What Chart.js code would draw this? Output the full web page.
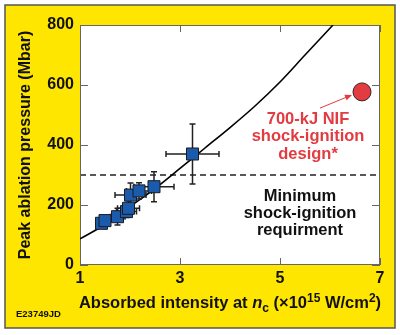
<!DOCTYPE html>
<html><head><meta charset="utf-8">
<script src="https://cdn.jsdelivr.net/npm/chart.js@4"></script>
<style>html,body{margin:0;padding:0;background:#fff;}#wrap{width:400px;height:335px;}</style>
</head><body><div id="wrap"><canvas id="c" width="400" height="335"></canvas></div>
<script>
const xTicks = [1, 3, 5, 7];
const yTicks = [0, 200, 400, 600, 800];
const measIntensity    = [1.43, 1.50, 1.75, 1.93, 1.97, 2.01, 2.18, 2.48, 3.25];
const measPressure     = [139, 148, 161, 178, 189, 233, 247, 261, 370];
const measIntensityErr = [0.10, 0.10, 0.15, 0.20, 0.22, 0.31, 0.25, 0.40, 0.53];
const measPressureErr  = [12, 12, 28, 20, 25, 40, 27, 50, 100];
const fitIntensity = [1, 1.5, 2, 2.5, 3, 3.5, 4, 4.5, 5, 5.5, 6.06];
const fitPressure  = [87, 135, 195, 255, 322, 390, 458, 530, 610, 700, 800];
const designIntensity = [6.64];
const designPressure  = [577];
const thresholdPressure = 300;
const designLabel = ['700-kJ NIF', 'shock-ignition', 'design*'];
const thresholdLabel = ['Minimum', 'shock-ignition', 'requirment'];

const FONT = '"Liberation Sans", Arial, Helvetica, sans-serif';
const RED = '#E23B40';

const deco = {
  id: 'deco',
  beforeDraw(chart) {
    const c = chart.ctx, a = chart.chartArea;
    c.save();
    c.fillStyle = '#fff'; c.fillRect(0, 0, chart.width, chart.height);
    c.fillStyle = '#FFE600'; c.fillRect(5, 5, 390, 323);
    c.strokeStyle = '#555'; c.lineWidth = 1.5; c.strokeRect(5, 5, 390, 323);
    c.fillStyle = '#fff'; c.fillRect(a.left, a.top, a.right - a.left, a.bottom - a.top);
    c.restore();
  },
  beforeDatasetsDraw(chart) {
    const c = chart.ctx, a = chart.chartArea, xs = chart.scales.x, ys = chart.scales.y;
    c.save();
    const yd = ys.getPixelForValue(thresholdPressure);
    c.strokeStyle = '#222'; c.lineWidth = 1.5; c.setLineDash([6, 4]);
    c.beginPath(); c.moveTo(a.left, yd); c.lineTo(a.right, yd); c.stroke();
    c.setLineDash([]);
    c.strokeStyle = '#666'; c.lineWidth = 1;
    c.strokeRect(a.left + 0.5, a.top + 0.5, a.right - a.left - 1, a.bottom - a.top - 1);
    c.beginPath();
    yTicks.forEach(v => {
      const y = Math.round(ys.getPixelForValue(v)) + 0.5;
      c.moveTo(a.left, y); c.lineTo(a.left + 8, y);
      c.moveTo(a.right, y); c.lineTo(a.right - 8, y);
    });
    xTicks.forEach(v => {
      const x = Math.round(xs.getPixelForValue(v)) + 0.5;
      c.moveTo(x, a.top); c.lineTo(x, a.top + 7);
      c.moveTo(x, a.bottom); c.lineTo(x, a.bottom - 7);
    });
    c.stroke();
    c.restore();
  },
  beforeDatasetDraw(chart, args) {
    if (args.index !== 0) return;
    const c = chart.ctx, xs = chart.scales.x, ys = chart.scales.y;
    c.save();
    c.strokeStyle = '#222'; c.lineWidth = 1.5;
    const cap = 3;
    measIntensity.forEach((xv, i) => {
      const x = xs.getPixelForValue(xv), y = ys.getPixelForValue(measPressure[i]);
      const x0 = xs.getPixelForValue(xv - measIntensityErr[i]), x1 = xs.getPixelForValue(xv + measIntensityErr[i]);
      const y0 = ys.getPixelForValue(measPressure[i] - measPressureErr[i]), y1 = ys.getPixelForValue(measPressure[i] + measPressureErr[i]);
      c.beginPath();
      c.moveTo(x0, y); c.lineTo(x1, y);
      c.moveTo(x0, y - cap); c.lineTo(x0, y + cap);
      c.moveTo(x1, y - cap); c.lineTo(x1, y + cap);
      c.moveTo(x, y0); c.lineTo(x, y1);
      c.moveTo(x - cap, y0); c.lineTo(x + cap, y0);
      c.moveTo(x - cap, y1); c.lineTo(x + cap, y1);
      c.stroke();
    });
    c.restore();
  },
  afterDraw(chart) {
    const c = chart.ctx, xs = chart.scales.x, ys = chart.scales.y;
    c.save();
    const ax0 = xs.getPixelForValue(5.8), ay0 = ys.getPixelForValue(523);
    const ax1 = xs.getPixelForValue(6.44), ay1 = ys.getPixelForValue(567);
    c.strokeStyle = RED; c.fillStyle = RED; c.lineWidth = 1;
    const ang = Math.atan2(ay1 - ay0, ax1 - ax0);
    c.beginPath(); c.moveTo(ax0, ay0); c.lineTo(ax1 - 5 * Math.cos(ang), ay1 - 5 * Math.sin(ang)); c.stroke();
    c.beginPath();
    c.moveTo(ax1, ay1);
    c.lineTo(ax1 - 7 * Math.cos(ang) + 3 * Math.sin(ang), ay1 - 7 * Math.sin(ang) - 3 * Math.cos(ang));
    c.lineTo(ax1 - 7 * Math.cos(ang) - 3 * Math.sin(ang), ay1 - 7 * Math.sin(ang) + 3 * Math.cos(ang));
    c.closePath(); c.fill();
    c.textAlign = 'center'; c.textBaseline = 'middle';
    c.font = 'bold 16.5px ' + FONT;
    c.fillStyle = RED;
    designLabel.forEach((t, i) => c.fillText(t, 308, 119 + i * 17.5));
    c.fillStyle = '#111';
    thresholdLabel.forEach((t, i) => c.fillText(t, 300, 196 + i * 17));
    const parts = [
      ['Absorbed intensity at ', 'bold 16.5px', 0],
      ['n', 'italic bold 16.5px', 0],
      ['c', 'bold 12px', 4],
      [' (\u00d710', 'bold 16.5px', 0],
      ['15', 'bold 12px', -6],
      [' W/cm', 'bold 16.5px', 0],
      ['2', 'bold 12px', -6],
      [')', 'bold 16.5px', 0]
    ];
    c.textAlign = 'left'; c.textBaseline = 'alphabetic';
    let w = 0;
    parts.forEach(p => { c.font = p[1] + ' ' + FONT; w += c.measureText(p[0]).width; });
    let x = 230 - w / 2;
    parts.forEach(p => { c.font = p[1] + ' ' + FONT; c.fillText(p[0], x, 308 + p[2]); x += c.measureText(p[0]).width; });
    c.font = 'bold 9.5px ' + FONT;
    c.textBaseline = 'middle';
    c.fillText('E23749JD', 16, 314);
    c.restore();
  }
};

new Chart(document.getElementById('c'), {
  type: 'scatter',
  data: {
    datasets: [
      {
        label: 'Measured',
        data: measIntensity.map((x, i) => ({ x, y: measPressure[i] })),
        pointStyle: 'rect', pointRadius: 8.5,
        backgroundColor: '#1B5BAB', borderColor: '#1a1a22', borderWidth: 1, order: 1
      },
      {
        label: 'Design',
        data: designIntensity.map((x, i) => ({ x, y: designPressure[i] })),
        pointRadius: 9, backgroundColor: RED, borderColor: '#3a2222', borderWidth: 1, order: 2
      },
      {
        label: 'Fit',
        data: fitIntensity.map((x, i) => ({ x, y: fitPressure[i] })),
        showLine: true, pointRadius: 0, borderColor: '#000', borderWidth: 1.6,
        cubicInterpolationMode: 'monotone', fill: false, order: 3
      }
    ]
  },
  options: {
    responsive: false, animation: false, events: [],
    layout: { padding: { left: 0, right: 20, top: 25, bottom: 0 } },
    plugins: { legend: { display: false }, tooltip: { enabled: false } },
    scales: {
      x: {
        type: 'linear', min: 1, max: 7,
        afterBuildTicks: s => { s.ticks = xTicks.map(v => ({ value: v })); },
        afterFit: s => { s.height = 70; },
        grid: { display: false, drawTicks: false }, border: { display: false },
        ticks: { padding: 4, color: '#111', font: { family: FONT, size: 16, weight: 'bold' } }
      },
      y: {
        type: 'linear', min: 0, max: 800,
        afterBuildTicks: s => { s.ticks = yTicks.map(v => ({ value: v })); },
        afterFit: s => { s.width = 80; },
        grid: { display: false, drawTicks: false }, border: { display: false },
        ticks: { padding: 6, color: '#111', font: { family: FONT, size: 16, weight: 'bold' } },
        title: { display: true, text: 'Peak ablation pressure (Mbar)', color: '#111',
                 font: { family: FONT, size: 16, weight: 'bold' }, padding: { top: 16, bottom: 0 } }
      }
    }
  },
  plugins: [deco]
});
</script>
</body></html>
